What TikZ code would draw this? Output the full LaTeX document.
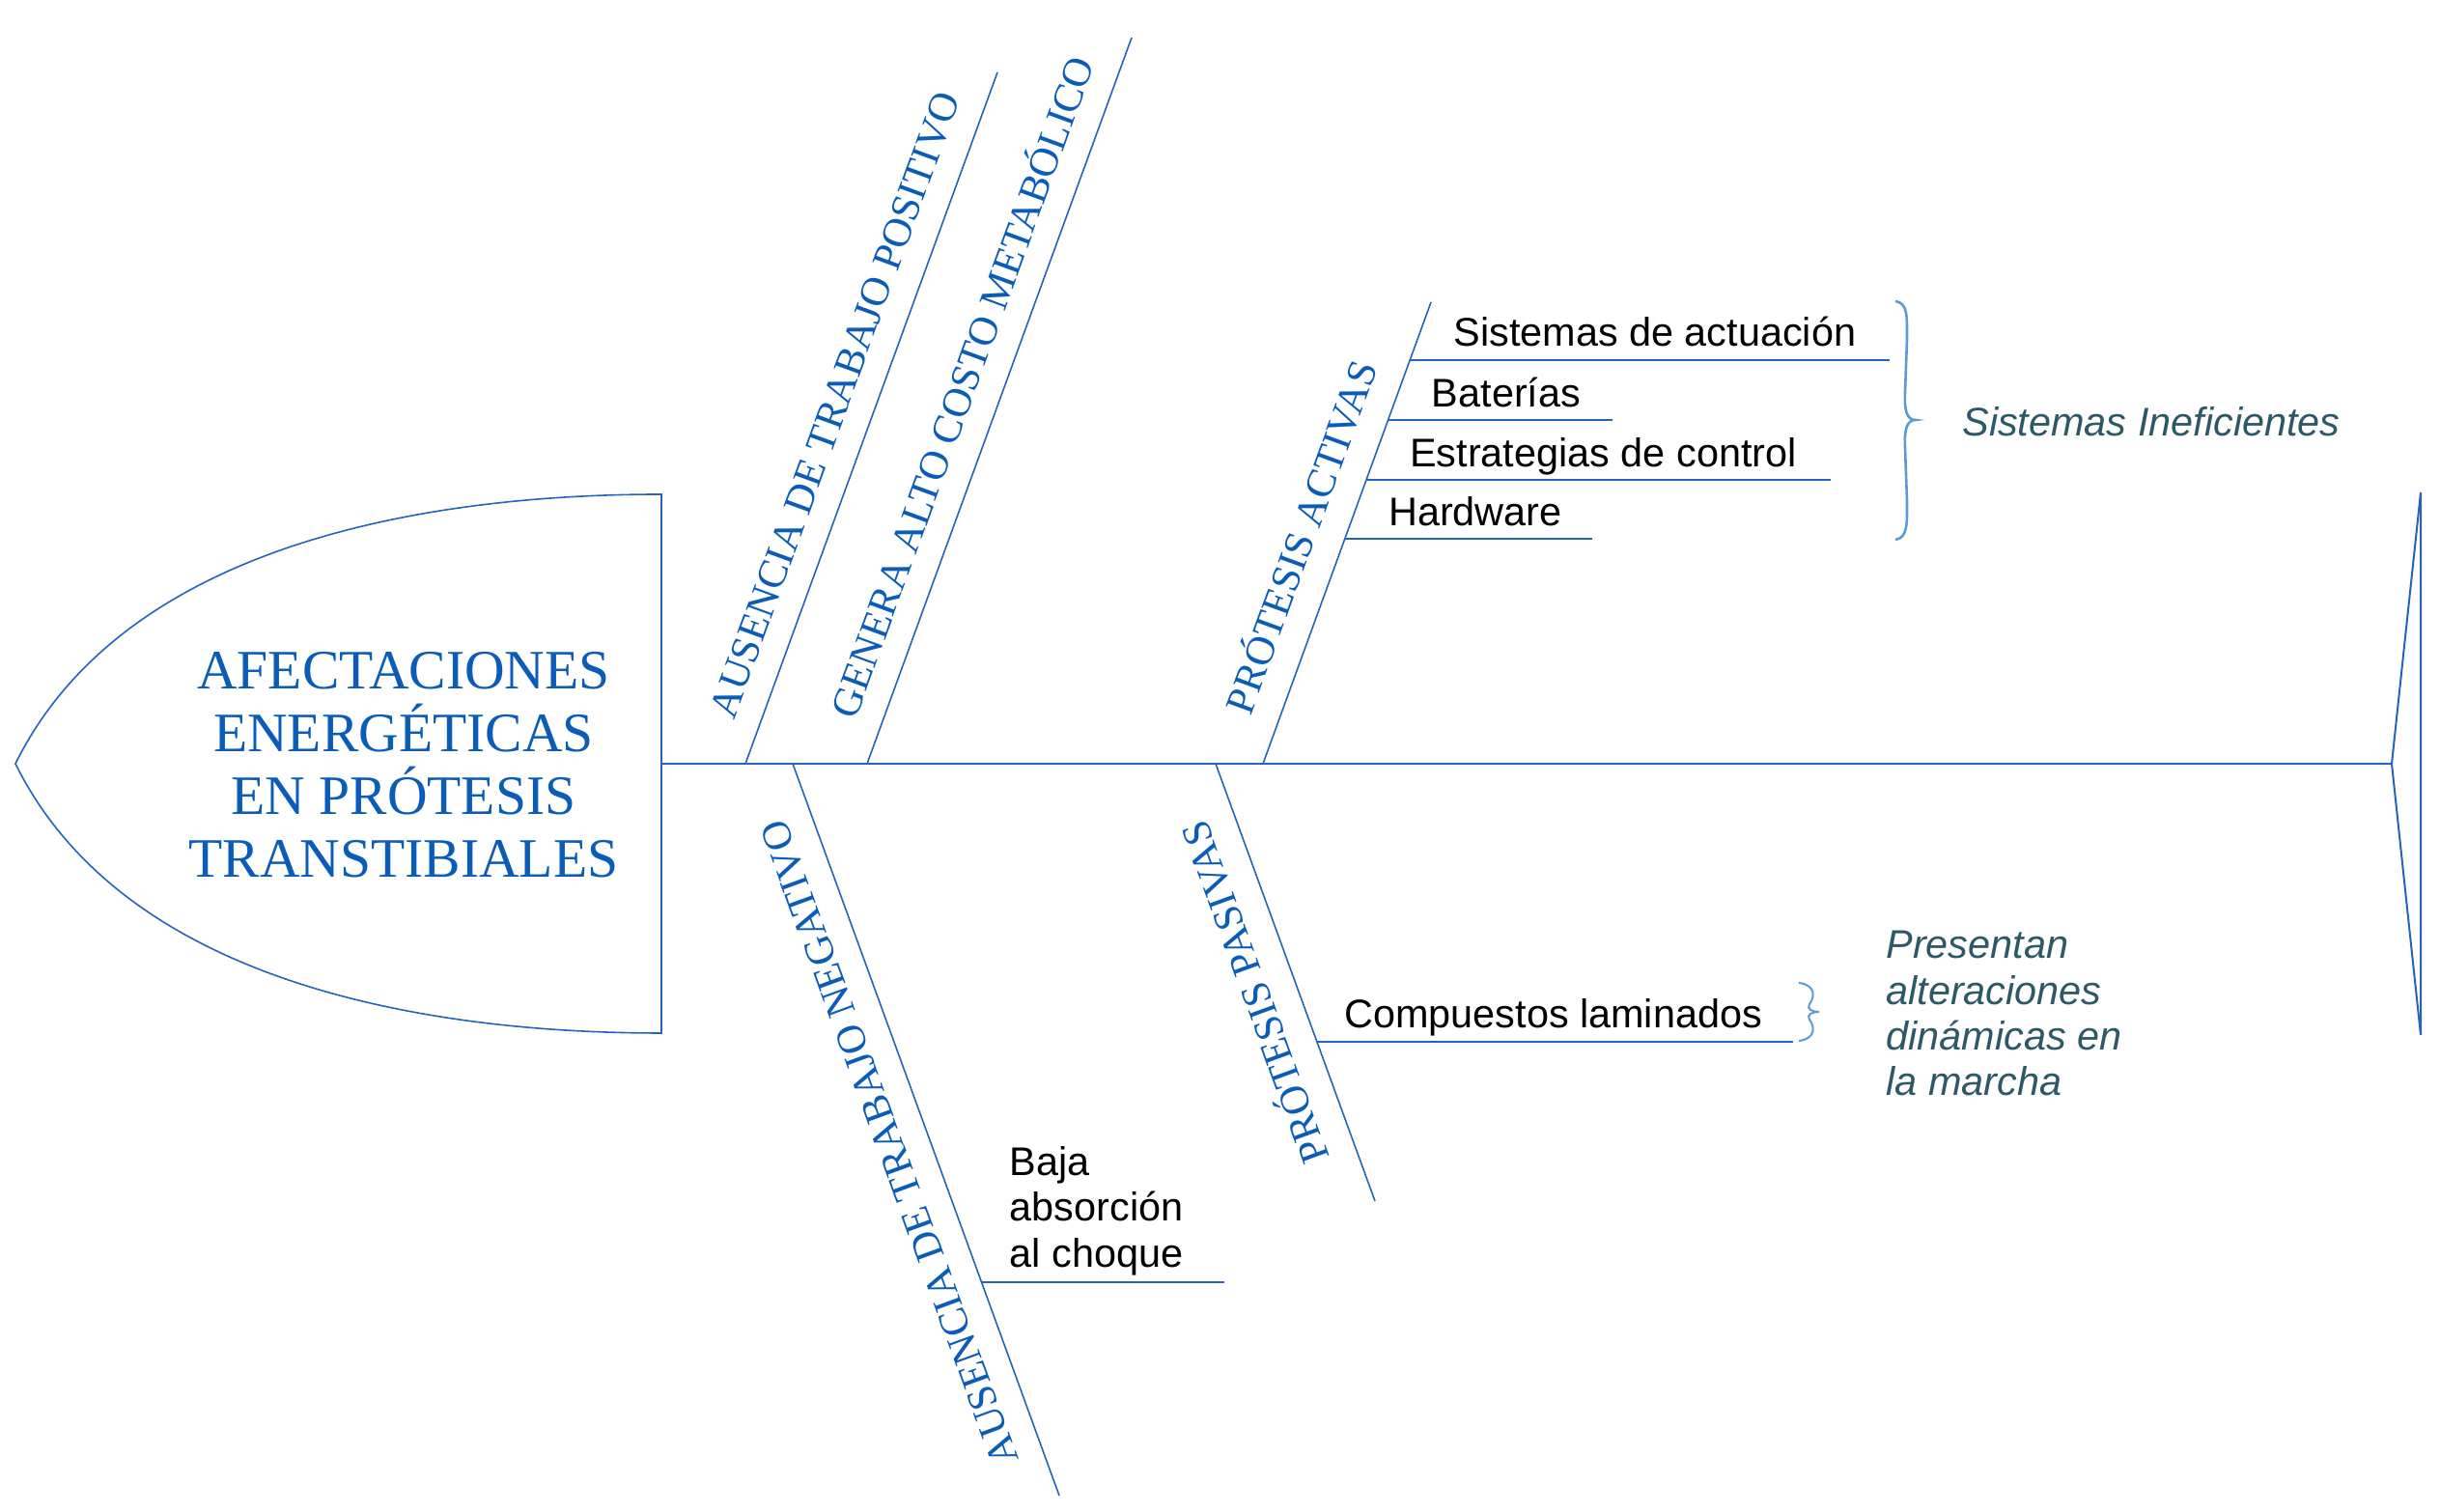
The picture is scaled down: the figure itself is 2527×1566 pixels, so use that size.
\documentclass[tikz,border=0pt]{standalone}
\usepackage{fontspec}
\setmainfont{Liberation Serif}
\setsansfont{Liberation Sans}
\usetikzlibrary{calc}
\definecolor{LineClr}{HTML}{2563BE}
\definecolor{TitleClr}{HTML}{0A5CB8}
\definecolor{NoteClr}{HTML}{2D5866}
\definecolor{BraceClr}{HTML}{5B9BD5}

\begin{document}
\begin{tikzpicture}[x=0.5pt,y=0.5pt,
  bone/.style={LineClr,line width=0.8pt},
  twig/.style={LineClr,line width=1pt},
  brace/.style={BraceClr,line width=1.3pt},
  headlbl/.style={TitleClr,font=\fontsize{28.8}{32.4}\selectfont,inner sep=0pt,align=center},
  bonelbl/.style={TitleClr,font=\fontsize{21.2}{24}\selectfont,inner sep=0pt,text height=0.66em,text depth=0pt},
  item/.style={font=\sffamily\fontsize{20.7}{23.8}\selectfont,inner sep=0pt,anchor=base west,align=left},
  note/.style={NoteClr,font=\sffamily\itshape\fontsize{20.7}{23.7}\selectfont,inner sep=0pt,anchor=base west,align=left}]
\useasboundingbox (0,0) rectangle (2527,1566);

\coordinate (HP) at (16,775);
\coordinate (HT) at (685,1054);
\coordinate (HB) at (685,496);
\coordinate (S0) at (685,775);
\coordinate (S1) at (2477,775);
\coordinate (TT) at (2507,1056);
\coordinate (TB) at (2507,494);

\coordinate (A1) at (772,775);  \coordinate (B1) at (1033,1491);
\coordinate (A2) at (898,775);  \coordinate (B2) at (1172,1527);
\coordinate (A3) at (1308,775); \coordinate (B3) at (1482,1253);
\coordinate (A4) at (821,775);  \coordinate (B4) at (1097,17);
\coordinate (A5) at (1259,775); \coordinate (B5) at (1424,322);

\coordinate (L1) at ($(A3)!0.875!(B3)$);  \coordinate (R1) at (1957,0 |- L1);
\coordinate (L2) at ($(A3)!0.744!(B3)$);  \coordinate (R2) at (1670,0 |- L2);
\coordinate (L3) at ($(A3)!0.6144!(B3)$); \coordinate (R3) at (1896,0 |- L3);
\coordinate (L4) at ($(A3)!0.4874!(B3)$); \coordinate (R4) at (1649,0 |- L4);
\coordinate (L5) at ($(A5)!0.6364!(B5)$); \coordinate (R5) at (1857,0 |- L5);
\coordinate (L6) at ($(A4)!0.7084!(B4)$); \coordinate (R6) at (1268,0 |- L6);

\draw[bone] (HT) .. controls (450,1054) and (130,1006) .. (HP)
  .. controls (130,544) and (450,496) .. (HB) -- cycle;
\draw[bone] (S0) -- (S1);
\draw[bone,line width=1pt] (TT) -- (S1) -- (TB) -- cycle;

\draw[bone] (A1) -- (B1);
\draw[bone] (A2) -- (B2);
\draw[bone] (A3) -- (B3);
\draw[bone] (A4) -- (B4);
\draw[bone] (A5) -- (B5);

\draw[twig] (L1) -- (R1);
\draw[twig] (L2) -- (R2);
\draw[twig] (L3) -- (R3);
\draw[twig] (L4) -- (R4);
\draw[twig] (L5) -- (R5);
\draw[twig] (L6) -- (R6);

\node[headlbl,anchor=base] (head) at (418,657.7) {AFECTACIONES\\ENERGÉTICAS\\EN PRÓTESIS\\TRANSTIBIALES};

\node[bonelbl,rotate=70] (pos) at ($(A1)!0.5!(B1)!16.5pt!90:(B1)$) {AUSENCIA DE TRABAJO POSITIVO};
\node[bonelbl,rotate=70] (met) at ($(A2)!0.5!(B2)!16.5pt!90:(B2)$) {GENERA ALTO COSTO METABÓLICO};
\node[bonelbl,rotate=70] (act) at ($(A3)!0.46!(B3)!17.5pt!90:(B3)$) {PRÓTESIS ACTIVAS};
\node[bonelbl,rotate=110] (neg) at ($(A4)!0.5!(B4)!16.5pt!-90:(B4)$) {AUSENCIA DE TRABAJO NEGATIVO};
\node[bonelbl,rotate=110] (pas) at ($(A5)!0.49!(B5)!17.5pt!-90:(B5)$) {PRÓTESIS PASIVAS};

\node[item] (act1) at ($(L1)+(45,14)$) {Sistemas de actuación};
\node[item] (act2) at ($(L2)+(45,14)$) {Baterías};
\node[item] (act3) at ($(L3)+(45,14)$) {Estrategias de control};
\node[item] (act4) at ($(L4)+(45,14)$) {Hardware};
\node[item] (pas1) at ($(L5)+(28,15)$) {Compuestos laminados};
\node[item] (neg1) at ($(L6)+(29,15.6)$) {Baja\\absorción\\al choque};

\draw[brace] (1963,1254) .. controls (1976,1252) and (1975,1238) .. (1975,1215)
  -- (1973,1160) .. controls (1972,1140) and (1975,1131) .. (1984,1131)
  .. controls (1975,1131) and (1972,1122) .. (1973,1102)
  -- (1975,1047) .. controls (1975,1024) and (1976,1009) .. (1963,1007);
\draw[brace,line width=1pt] (1863,548) .. controls (1880,546) and (1880,534) .. (1874,526)
  .. controls (1871,521) and (1876,518) .. (1884,518)
  .. controls (1876,518) and (1871,515) .. (1874,510)
  .. controls (1880,502) and (1880,490) .. (1863,488);

\node[note] (ineff) at (2032,1114.3) {Sistemas Ineficientes};
\node[note] (gait) at (1953,431) {Presentan\\alteraciones\\dinámicas en\\la marcha};

\end{tikzpicture}
\end{document}
